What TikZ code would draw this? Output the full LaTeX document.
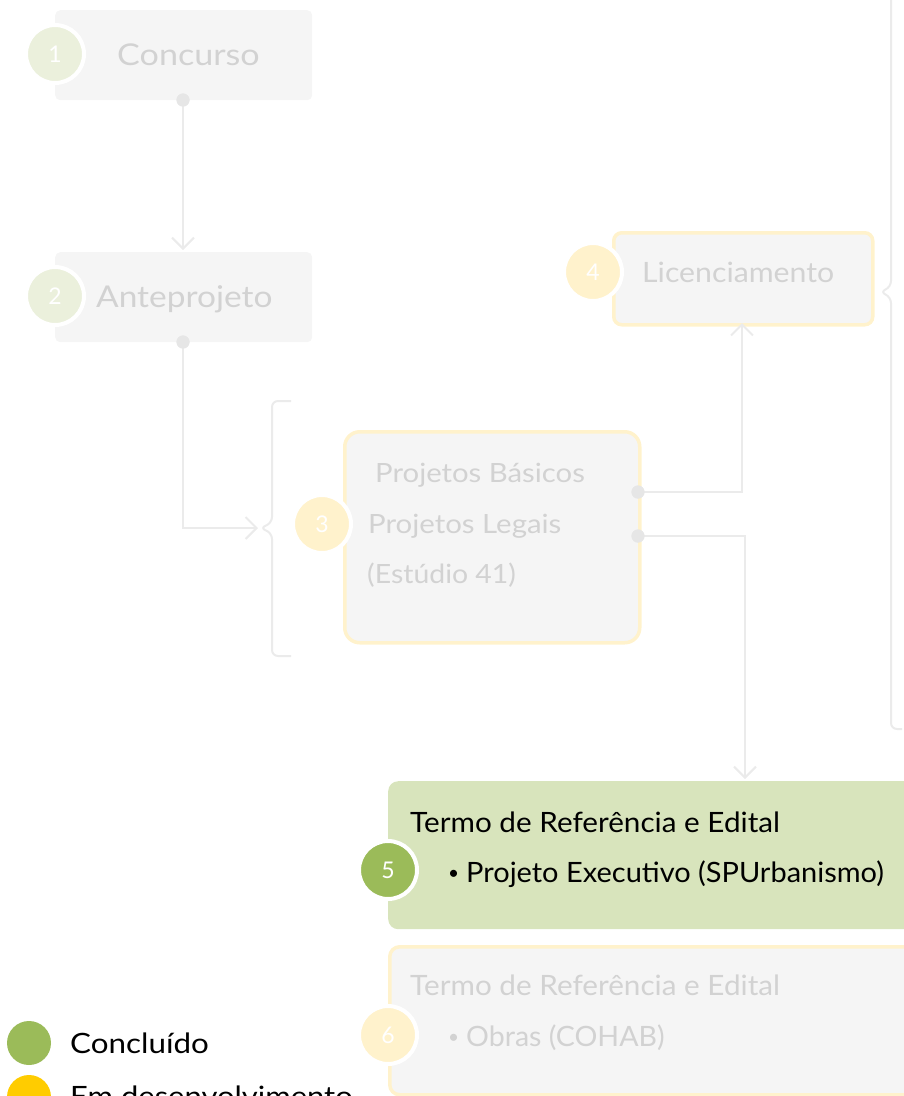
\documentclass[tikz,border=0pt]{standalone}
\usepackage{fontspec}
\usepackage{graphicx}
\setmainfont{Lato}
\usetikzlibrary{arrows.meta}
\definecolor{boxgray}{HTML}{F5F5F5}
\definecolor{ylborder}{HTML}{FFF2CC}
\definecolor{ltgreen}{HTML}{EBF0DC}
\definecolor{ltyellow}{HTML}{FFF2CC}
\definecolor{greenbox}{HTML}{D8E4BC}
\definecolor{greendot}{HTML}{9BBB59}
\definecolor{yellowdot}{HTML}{FFCC00}
\definecolor{txtgray}{HTML}{D2D2D2}
\definecolor{linegray}{HTML}{EBEBEB}
\definecolor{dotgray}{HTML}{E6E6E6}
\newcommand{\wx}[2]{\scalebox{#1}[1]{#2}}
\newcommand{\smallbul}{\raisebox{2.5pt}{\fontsize{19}{19}\selectfont •}\hspace{7pt}}
\tikzset{
  boxplain/.style={fill=boxgray, rounded corners=5pt, inner sep=0pt, anchor=north west},
  boxyellow/.style={fill=boxgray, draw=ylborder, line width=3.5pt, inner sep=0pt, anchor=north west},
  numcirc/.style={circle, minimum size=58pt, inner sep=0pt, draw=white, line width=4pt, text=white, font=\fontsize{23}{23}\selectfont},
  lbl/.style={inner sep=0pt, anchor=base west, text=txtgray},
  dotc/.style={circle, fill=dotgray, minimum size=13pt, inner sep=0pt},
  conn/.style={draw=linegray, line width=2pt},
  arr/.style={conn, -{Straight Barb[length=11pt, width=22pt, line width=2pt]}},
  bracec/.style={draw=linegray, line width=2pt, rounded corners=6pt}
}
\begin{document}
\begin{tikzpicture}[x=1pt,y=-1pt]
\useasboundingbox (0,0) rectangle (904,1096);
\clip (0,0) rectangle (904,1096);

% Box 1
\node[boxplain, minimum width=257pt, minimum height=90pt] (b1) at (55,10) {};
\node[numcirc, fill=ltgreen] (c1) at (55,54) {1};
\node[lbl, font=\fontsize{30}{30}\selectfont] (t1) at (117,65) {\wx{1.137}{Concurso}};
\node[dotc] (d1) at (183,100) {};
\coordinate (a2) at (183,250);

% Box 2
\node[boxplain, minimum width=257pt, minimum height=90pt] (b2) at (55,252) {};
\node[numcirc, fill=ltgreen] (c2) at (55,296) {2};
\node[lbl, font=\fontsize{30}{30}\selectfont] (t2) at (96,307) {\wx{1.115}{Anteprojeto}};
\node[dotc] (d2) at (183,342) {};

% Left brace
\draw[bracec] (291,401) -- (272,401) -- (272,523) -- (260,528) -- (272,533) -- (272,656) -- (291,656);
\coordinate (br1) at (258,528);
\coordinate (k2) at (183,528);

% Box 3
\node[boxyellow, rounded corners=15pt, minimum width=295pt, minimum height=211pt] (b3) at (343,430) {};
\node[numcirc, fill=ltyellow] (c3) at (322,524) {3};
\node[lbl, font=\fontsize{26.5}{26.5}\selectfont] (t3a) at (375,482) {\wx{1.106}{Projetos Básicos}};
\node[lbl, font=\fontsize{26.5}{26.5}\selectfont] (t3b) at (368,533) {\wx{1.109}{Projetos Legais}};
\node[lbl, font=\fontsize{26.5}{26.5}\selectfont] (t3c) at (367,583) {\wx{1.072}{(Estúdio 41)}};
\node[dotc] (d3a) at (638,492) {};
\node[dotc] (d3b) at (638,536) {};

% Box 4
\node[boxyellow, rounded corners=8pt, minimum width=259pt, minimum height=92pt] (b4) at (612,231) {};
\node[numcirc, fill=ltyellow] (c4) at (593,272) {4};
\node[lbl, font=\fontsize{28}{28}\selectfont] (t4) at (642,282) {\wx{1.08}{Licenciamento}};
\coordinate (a4) at (742,323);

% Right brace
\draw[bracec] (900,-60) -- (891,-60) -- (891,287) -- (880,292) -- (891,297) -- (891,729) -- (902,729);

% Box 5
\node[fill=greenbox, rounded corners=10pt, inner sep=0pt, anchor=north west, minimum width=540pt, minimum height=148pt] (b5) at (388,781) {};
\node[numcirc, fill=greendot] (c5) at (388,870) {5};
\node[lbl, text=black, font=\fontsize{28}{28}\selectfont] (t5a) at (410,832) {\wx{1.06}{Termo de Referência e Edital}};
\node[lbl, text=black, font=\fontsize{28}{28}\selectfont] (t5b) at (448,882) {\smallbul\wx{1.035}{Projeto Executivo (SPUrbanismo)}};
\coordinate (a5) at (745,779);

% Box 6
\node[boxyellow, rounded corners=10pt, minimum width=540pt, minimum height=148pt] (b6) at (388,945) {};
\node[numcirc, fill=ltyellow] (c6) at (388,1035) {6};
\node[lbl, font=\fontsize{28}{28}\selectfont] (t6a) at (410,995) {\wx{1.06}{Termo de Referência e Edital}};
\node[lbl, font=\fontsize{28}{28}\selectfont] (t6b) at (448,1046) {\smallbul\wx{1.02}{Obras (COHAB)}};

% Connectors
\draw[arr] (d1.center) -- (a2);
\draw[arr] (d2.center) -- (k2) -- (br1);
\draw[arr] (d3a.center) -| (a4);
\draw[arr] (d3b.center) -| (a5);
\node[dotc] at (d1) {};
\node[dotc] at (d2) {};
\node[dotc] at (d3a) {};
\node[dotc] at (d3b) {};

% Legend
\node[circle, fill=greendot, minimum size=44pt, inner sep=0pt] (lg1) at (29,1043) {};
\node[inner sep=0pt, anchor=base west, font=\fontsize{28}{28}\selectfont] (lt1) at (70,1053) {\wx{1.12}{Concluído}};
\node[circle, fill=yellowdot, minimum size=44pt, inner sep=0pt] (lg2) at (29,1097) {};
\node[inner sep=0pt, anchor=base west, font=\fontsize{28}{28}\selectfont] (lt2) at (70,1106) {\wx{1.106}{Em desenvolvimento}};
\end{tikzpicture}
\end{document}
